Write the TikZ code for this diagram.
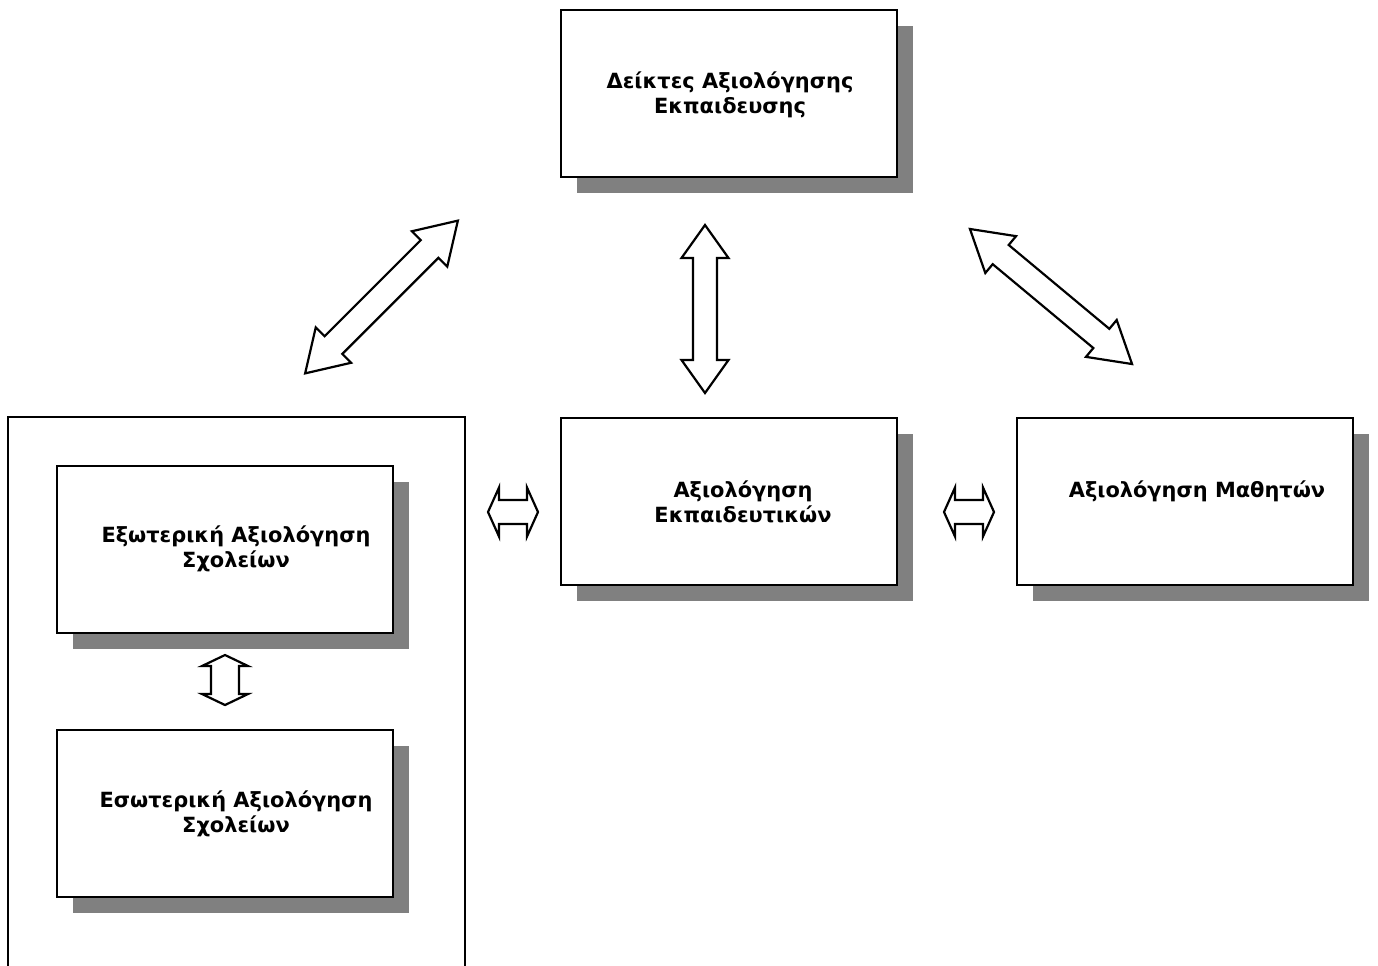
\documentclass[tikz,border=0pt]{standalone}
\usepackage{fontspec}
\setmainfont{DejaVu Sans}
\usetikzlibrary{shadows}
\tikzset{
evalbox/.style={draw, line width=1.1pt, fill=white, minimum width=6.72cm, minimum height=3.34cm,
drop shadow={shadow xshift=0.32cm, shadow yshift=-0.32cm, fill=black!50, opacity=1}},
evaltext/.style={align=center, inner sep=0pt, font=\fontsize{11.9}{14.2}\selectfont\bfseries},
frame/.style={draw, line width=1.1pt, minimum width=9.14cm, minimum height=12cm},
blockarrow/.style={draw, line width=1.25pt, fill=white, line join=miter},
}
% centre, angle, half length, half shaft, half head, head length
\newcommand{\dblarrow}[6]{%
\draw[blockarrow, shift={#1}, rotate=#2] (-#3,0) -- (-#3+#6,#5) -- (-#3+#6,#4) -- (#3-#6,#4) -- (#3-#6,#5) -- (#3,0) -- (#3-#6,-#5) -- (#3-#6,-#4) -- (-#3+#6,-#4) -- (-#3+#6,-#5) -- cycle;}

\begin{document}
\begin{tikzpicture}[x=0.02cm, y=-0.02cm]
\useasboundingbox (0,0) rectangle (1378,965);

\node[frame] (schools) at (236.5,717) {};

\node[evalbox] (ind) at (729,93.5) {};
\node[evalbox] (teach) at (729,501.5) {};
\node[evalbox] (pupil) at (1185,501.5) {};
\node[evalbox] (ext) at (225,549.5) {};
\node[evalbox] (int) at (225,813.5) {};

\node[evaltext] (indT) at (730,95) {Δείκτες Αξιολόγησης\\Εκπαιδευσης};
\node[evaltext] (teachT) at (743,502) {Αξιολόγηση\\Εκπαιδευτικών};
\node[evaltext] (pupilT) at (1197,491) {Αξιολόγηση Μαθητών};
\node[evaltext] (extT) at (236,549) {Εξωτερική Αξιολόγηση\\Σχολείων};
\node[evaltext] (intT) at (236,814) {Εσωτερική Αξιολόγηση\\Σχολείων};

% block arrows
\dblarrow{(381.5,297)}{45}{108}{12.5}{25}{40}
\dblarrow{(705,309)}{90}{84}{12}{23.5}{33}
\dblarrow{(1051,296.5)}{-39.8}{105.5}{12.5}{24}{40}
\dblarrow{(513,512)}{0}{25}{12}{24.5}{11}
\dblarrow{(969,512)}{0}{25}{12}{24.5}{11}
\dblarrow{(225,680)}{90}{25}{14}{23}{11}
\end{tikzpicture}
\end{document}
